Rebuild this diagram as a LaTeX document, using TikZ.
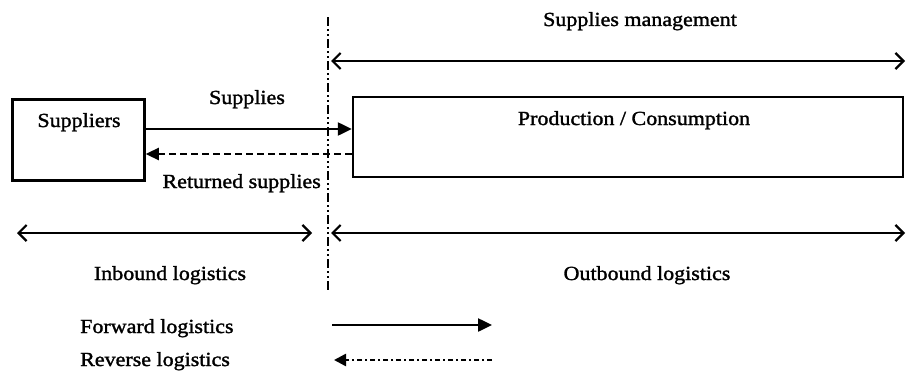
\documentclass[tikz,border=0pt]{standalone}
\usepackage{fontspec}
\setmainfont{Liberation Serif}[FakeStretch=1.1,FakeBold=1.5]
\usetikzlibrary{arrows.meta}
\begin{document}
\begin{tikzpicture}[x=1pt,y=-1pt,
  font=\fontsize{20}{24}\selectfont,
  box/.style={draw, line width=2.5pt, inner sep=0pt},
  txt/.style={inner sep=0pt, anchor=base},
  txtl/.style={inner sep=0pt, anchor=base west},
  txtr/.style={inner sep=0pt, anchor=base east},
  spanarr/.style={line width=2.4pt, {Straight Barb[length=8pt,width=16pt,line width=2.2pt]}-{Straight Barb[length=8pt,width=16pt,line width=2.2pt]}},
  fwd/.style={line width=2.5pt, -{Triangle[length=14pt,width=13pt]}},
  ret/.style={line width=2.3pt, dash pattern=on 7pt off 4pt, -{Triangle[length=13pt,width=12pt]}},
  rev/.style={line width=2.5pt, dash pattern=on 5pt off 3pt on 2pt off 3pt, -{Triangle[length=12pt,width=12pt]}},
  divider/.style={line width=2.3pt, dash pattern=on 9pt off 3pt on 2pt off 3pt on 2pt off 3pt}
]
\useasboundingbox (0,0) rectangle (906,372);

% boxes
\node[box, minimum width=132pt, minimum height=81pt] (sup) at (78.5,140) {};
\node[box, minimum width=550pt, minimum height=80pt] (prod) at (628,137) {};
\node[txt] (suptxt) at (79,127) {Suppliers};
\node[txt] (prodtxt) at (634,125) {Production / Consumption};

% divider
\coordinate (vt) at (328,17);
\coordinate (vb) at (328,292);
\draw[divider] (vt) -- (vb);

% supplies arrows
\draw[fwd] (sup.east |- 0,129) -- (prod.west |- 0,129);
\draw[ret] (prod.west |- 0,154) -- (sup.east |- 0,154);
\node[txt] (suppl) at (247,104) {Supplies};
\node[txtr] (retsup) at (321,188) {Returned supplies};

% management span
\coordinate (mL) at (331,61);
\coordinate (mR) at (905,61);
\draw[spanarr] (mL) -- (mR);
\node[txt] (mgmt) at (640,26) {Supplies management};

% logistics spans
\coordinate (iL) at (17,233);
\coordinate (iR) at (312,233);
\coordinate (oL) at (331,233);
\coordinate (oR) at (905,233);
\draw[spanarr] (iL) -- (iR);
\draw[spanarr] (oL) -- (oR);
\node[txt] (inb) at (170,280) {Inbound logistics};
\node[txt] (outb) at (647,280) {Outbound logistics};

% legend
\node[txtl] (fl) at (80,333) {Forward logistics};
\node[txtl] (rl) at (80,366) {Reverse logistics};
\coordinate (fa) at (332,325);
\coordinate (fb) at (492,325);
\coordinate (ra) at (492,360);
\coordinate (rb) at (334,360);
\draw[fwd] (fa) -- (fb);
\draw[rev] (ra) -- (rb);
\end{tikzpicture}
\end{document}
